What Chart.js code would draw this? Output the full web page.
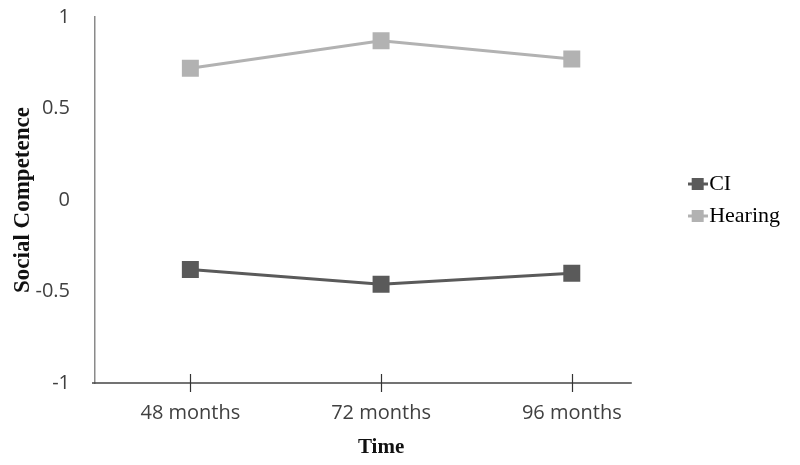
<!DOCTYPE html>
<html>
<head>
<meta charset="utf-8">
<script src="https://cdn.jsdelivr.net/npm/chart.js@4"></script>
<style>
  html, body { margin: 0; padding: 0; background: #fff; }
  #wrap { width: 800px; height: 465px; position: relative; }
</style>
</head>
<body>
<div id="wrap"><canvas id="socialChart"></canvas></div>
<script>
const labels = ['48 months', '72 months', '96 months'];
const ciData = [-0.38, -0.46, -0.40];
const hearingData = [0.72, 0.87, 0.77];
const yTicks = [-1, -0.5, 0, 0.5, 1];

const ciColor = '#5a5a5a';
const hearingColor = '#b2b2b2';

// Excel style legend key: short line with a square in the middle
function legendKey(color) {
    const c = document.createElement('canvas');
    c.width = 20;
    c.height = 14;
    const g = c.getContext('2d');
    g.strokeStyle = color;
    g.lineWidth = 3;
    g.beginPath();
    g.moveTo(0, 7);
    g.lineTo(20, 7);
    g.stroke();
    g.fillStyle = color;
    g.fillRect(4, 1, 12, 12);
    return c;
}

// x axis line that stops short of the plot edge, tick marks crossing it
const axisPlugin = {
    id: 'axisPlugin',
    afterLayout(chart) {
        // push the legend block a little away from the plot
        chart.legend.left += 20;
        chart.legend.right += 20;
    },
    afterDraw(chart) {
        const g = chart.ctx;
        const xs = chart.scales.x;
        const area = chart.chartArea;
        const lastX = xs.getPixelForTick(labels.length - 1);
        g.save();
        g.strokeStyle = '#444';
        g.lineWidth = 1.5;
        g.beginPath();
        g.moveTo(area.left - 3, area.bottom);
        g.lineTo(lastX + 60, area.bottom);
        g.stroke();
        g.lineWidth = 1.2;
        g.strokeStyle = '#333';
        labels.forEach((_, i) => {
            const px = Math.round(xs.getPixelForTick(i)) + 0.5;
            g.beginPath();
            g.moveTo(px, area.bottom - 9);
            g.lineTo(px, area.bottom + 9);
            g.stroke();
        });
        g.restore();
    }
};

const ctx = document.getElementById('socialChart').getContext('2d');
const socialChart = new Chart(ctx, {
    type: 'line',
    data: {
        labels: labels,
        datasets: [
            {
                label: 'CI',
                data: ciData,
                borderColor: ciColor,
                backgroundColor: ciColor,
                borderWidth: 3,
                pointStyle: 'rect',
                pointRadius: 12,
                pointBorderWidth: 0,
                pointBackgroundColor: ciColor,
                tension: 0,
            },
            {
                label: 'Hearing',
                data: hearingData,
                borderColor: hearingColor,
                backgroundColor: hearingColor,
                borderWidth: 3,
                pointStyle: 'rect',
                pointRadius: 12,
                pointBorderWidth: 0,
                pointBackgroundColor: hearingColor,
                tension: 0,
            }
        ]
    },
    plugins: [axisPlugin],
    options: {
        responsive: true,
        maintainAspectRatio: false,
        animation: false,
        layout: {
            padding: { top: 17, right: 30, left: 8, bottom: 2 }
        },
        scales: {
            x: {
                offset: true,
                afterFit: function (scale) {
                    scale.height = 80;
                },
                grid: { display: false },
                border: { display: false },
                ticks: {
                    color: '#404040',
                    font: { family: 'Open Sans, Liberation Sans, sans-serif', size: 20 },
                    padding: 10,
                },
                title: {
                    display: true,
                    text: 'Time',
                    color: '#111',
                    font: { family: 'Liberation Serif, serif', size: 21, weight: 'bold' },
                    padding: { top: 0, bottom: 3 },
                },
            },
            y: {
                min: -1,
                max: 1,
                afterBuildTicks: function (scale) {
                    scale.ticks = yTicks.map(v => ({ value: v }));
                },
                afterFit: function (scale) {
                    scale.width = 87;
                    scale.paddingTop = 0;
                    scale.paddingBottom = 0;
                },
                grid: { display: false },
                border: { display: true, color: '#8a8a8a', width: 1.5 },
                ticks: {
                    color: '#404040',
                    font: { family: 'Open Sans, Liberation Sans, sans-serif', size: 20 },
                    padding: 17,
                    callback: function (value) {
                        return String(value);
                    }
                },
                title: {
                    display: true,
                    text: 'Social Competence',
                    color: '#111',
                    font: { family: 'Liberation Serif, serif', size: 23, weight: 'bold' },
                    padding: { top: 1, bottom: 0 },
                },
            }
        },
        plugins: {
            legend: {
                display: true,
                position: 'right',
                align: 'center',
                fullSize: false,
                labels: {
                    color: '#111',
                    font: { family: 'Liberation Serif, serif', size: 22 },
                    usePointStyle: true,
                    pointStyleWidth: 1,
                    padding: 10,
                    generateLabels: function (chart) {
                        return chart.data.datasets.map((ds, i) => ({
                            text: ds.label,
                            pointStyle: legendKey(ds.borderColor),
                            fillStyle: ds.borderColor,
                            strokeStyle: ds.borderColor,
                            lineWidth: 0,
                            hidden: false,
                            datasetIndex: i,
                        }));
                    }
                }
            },
            tooltip: { enabled: false }
        }
    }
});
</script>
</body>
</html>
